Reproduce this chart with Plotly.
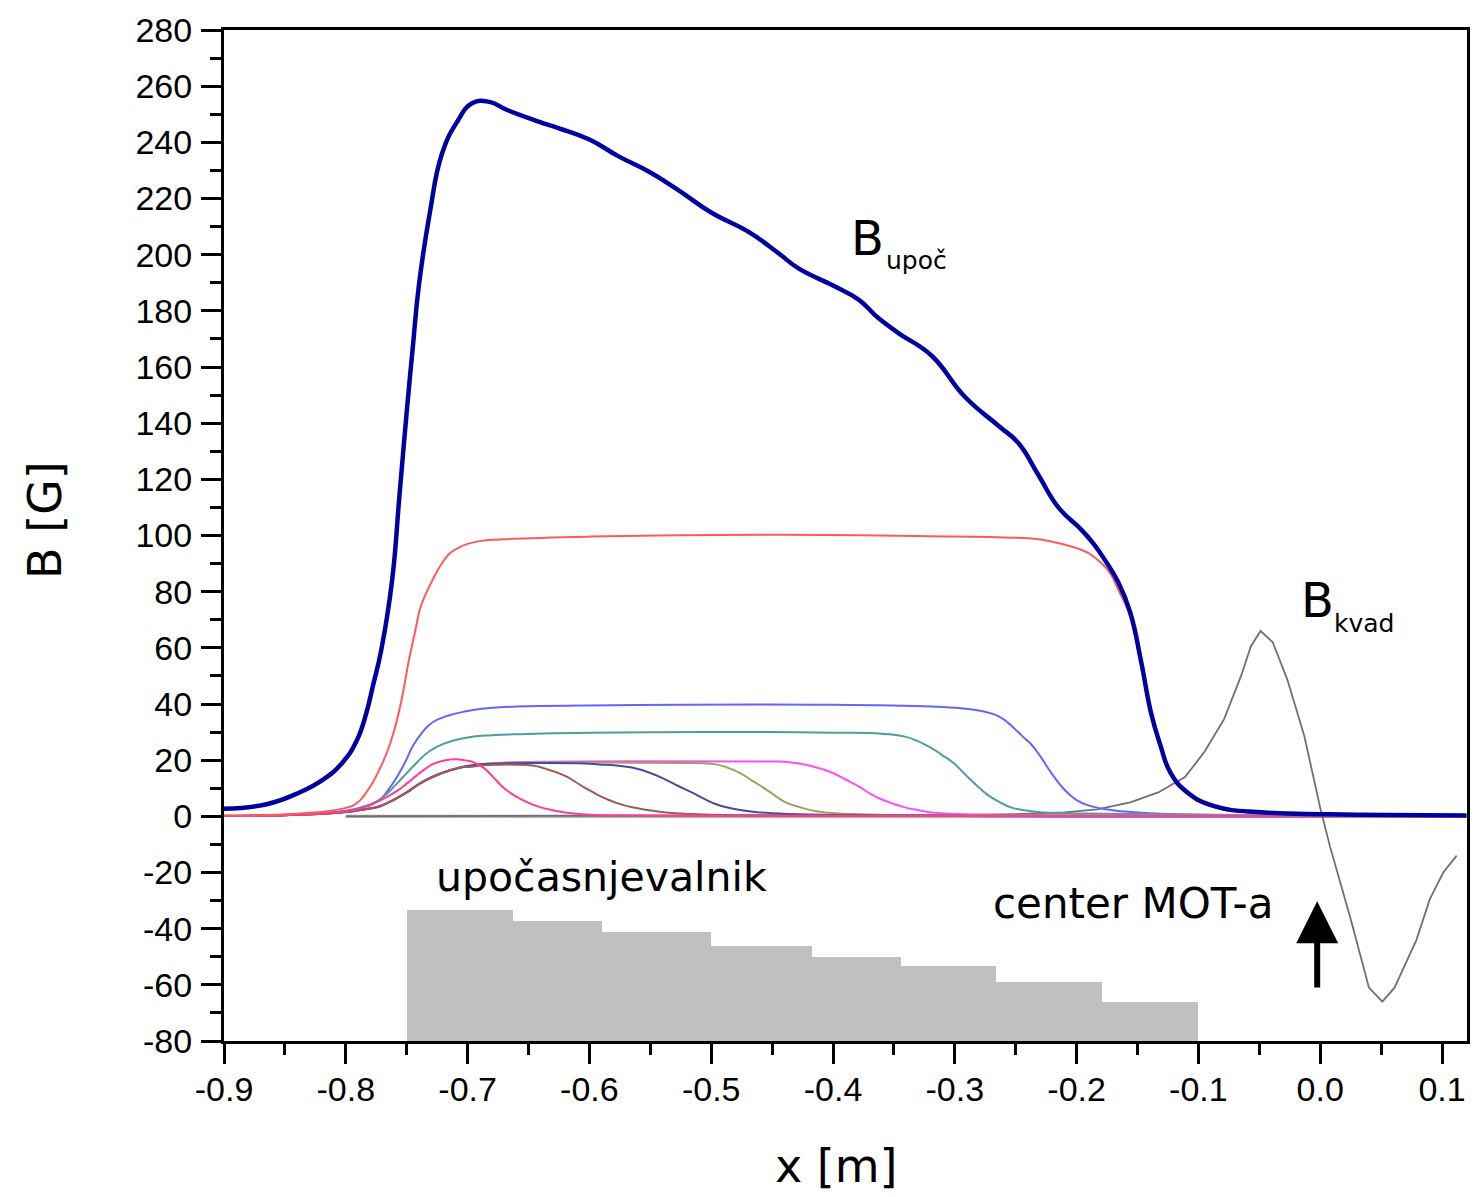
import plotly.graph_objects as go

# ---------------- data ----------------
x_upoc = [-0.900, -0.865, -0.838, -0.819, -0.803, -0.791, -0.783, -0.778, -0.771, -0.762,
          -0.756, -0.750, -0.745, -0.740, -0.731, -0.721, -0.709, -0.696, -0.682, -0.668,
          -0.641, -0.625, -0.600, -0.576, -0.551, -0.527, -0.500, -0.469, -0.445, -0.428,
          -0.400, -0.379, -0.363, -0.346, -0.319, -0.292, -0.264, -0.248, -0.232, -0.215,
          -0.196, -0.186, -0.177, -0.166, -0.156, -0.147, -0.139, -0.131, -0.123, -0.109,
          -0.087, -0.046, 0.008, 0.120]
y_upoc = [2.7, 4.3, 8.5, 13, 19, 27, 37, 46, 59, 84,
          114, 144, 167, 189, 215, 236, 247, 254, 254.4, 251.6,
          247.3, 245, 241, 235, 229.5, 223, 215, 208, 200.6, 195,
          189, 184, 177.5, 172, 164, 149.5, 139, 133, 122, 110,
          102, 97, 91.4, 83.5, 72.6, 55, 37, 25, 15.6, 8.5,
          3.6, 1.4, 0.7, 0.3]

x_red = [-0.900, -0.838, -0.800, -0.790, -0.784, -0.778, -0.772, -0.766, -0.760, -0.754,
         -0.748, -0.743, -0.739, -0.734, -0.729, -0.722, -0.715, -0.708, -0.700, -0.690,
         -0.674, -0.600, -0.445, -0.300, -0.260, -0.237, -0.220, -0.210, -0.200, -0.191,
         -0.184, -0.177, -0.171, -0.166, -0.161, -0.156, -0.147, -0.139, -0.131, -0.123,
         -0.109, -0.087, -0.046, 0.008, 0.120]
y_red = [0.3, 1, 3, 5, 8, 12, 17, 23, 31, 42,
         56, 66, 74, 79.5, 84, 89.5, 93.5, 95.5, 97, 98,
         98.6, 99.6, 100.3, 99.6, 99.3, 98.9, 97.8, 96.8, 95.5, 93.9,
         91.8, 89, 85.5, 80.8, 76.5, 71, 54, 36, 24, 15,
         8, 3.2, 1.1, 0.4, 0.1]

x_b40 = [-0.900, -0.850, -0.800, -0.785, -0.772, -0.765, -0.758, -0.751, -0.745, -0.737,
         -0.729, -0.715, -0.701, -0.688, -0.674, -0.650, -0.600, -0.400, -0.319, -0.295,
         -0.278, -0.264, -0.256, -0.248, -0.242, -0.237, -0.230, -0.224, -0.218, -0.212,
         -0.206, -0.200, -0.191, -0.176, -0.160, -0.143, -0.100, 0.120]
y_b40 = [0.2, 0.6, 2, 3.5, 6, 9.5, 14, 19.5, 25, 30,
         33.4, 36, 37.4, 38.3, 38.8, 39.2, 39.5, 39.7, 39.1, 38.5,
         37.5, 35.6, 33.2, 30, 27.5, 25.5, 21.5, 17.5, 13.8, 10.5,
         7.8, 5.8, 4, 2.5, 1.7, 1.2, 0.6, 0.2]

x_teal = [-0.900, -0.850, -0.800, -0.784, -0.776, -0.769, -0.761, -0.753, -0.742, -0.732,
          -0.720, -0.701, -0.680, -0.650, -0.600, -0.400, -0.360, -0.340, -0.322, -0.311,
          -0.301, -0.294, -0.287, -0.279, -0.271, -0.262, -0.254, -0.240, -0.227, -0.200,
          0.000, 0.120]
y_teal = [0.1, 0.5, 1.8, 3.5, 5, 7, 10.3, 14, 19, 23,
          25.8, 28, 28.9, 29.3, 29.8, 29.8, 29.4, 28.3, 25, 22,
          19, 16, 13, 9.8, 7, 4.8, 3.2, 2, 1.4, 1,
          0.3, 0.1]

# common rise of the four 20 G coils
x_rise = [-0.900, -0.850, -0.820, -0.800, -0.786, -0.772, -0.761, -0.750, -0.740, -0.729,
          -0.715, -0.701, -0.688, -0.674]
y_rise = [0.1, 0.4, 0.9, 1.5, 2.4, 3.6, 5.8, 8.5, 11.5, 14,
          16.3, 17.8, 18.6, 19]

x_mag = x_rise + [-0.640, -0.550, -0.450, -0.440, -0.428, -0.415, -0.401, -0.390, -0.379, -0.370,
                  -0.360, -0.350, -0.341, -0.330, -0.319, -0.280, -0.200, 0.120]
y_mag = y_rise + [19.4, 19.6, 19.5, 19.4, 18.8, 17.6, 15.6, 13.2, 10.7, 8.2,
                  6, 4.4, 3.2, 2.2, 1.4, 0.6, 0.3, 0.1]

x_olv = x_rise + [-0.640, -0.592, -0.520, -0.507, -0.496, -0.487, -0.477, -0.466, -0.455, -0.447,
                  -0.439, -0.427, -0.414, -0.395, -0.300, 0.120]
y_olv = y_rise + [19.3, 19.2, 19, 18.9, 18.5, 17.4, 15.6, 12.6, 9.6, 7.2,
                  5, 3.2, 1.8, 1.0, 0.3, 0.1]

x_navy = x_rise[:-1] + [-0.674, -0.640, -0.610, -0.592, -0.578, -0.565, -0.551, -0.537, -0.527, -0.516,
                        -0.506, -0.496, -0.483, -0.469, -0.450, -0.350, 0.120]
y_navy = y_rise[:-1] + [18.8, 19, 18.9, 18.5, 18.1, 17.4, 15.6, 13, 10.8, 8.5,
                        6.3, 4.3, 2.8, 1.8, 1.1, 0.3, 0.1]

x_brn = x_rise[:-2] + [-0.701, -0.688, -0.674, -0.660, -0.647, -0.640, -0.633, -0.626, -0.619, -0.612,
                       -0.605, -0.598, -0.592, -0.585, -0.578, -0.565, -0.551, -0.537, -0.500, -0.400, 0.120]
y_brn = y_rise[:-2] + [17.6, 18.2, 18.4, 18.4, 18.1, 17.5, 16.5, 15.5, 14.2, 12.4,
                       10.5, 8.8, 7.4, 6, 4.8, 3.2, 2.2, 1.4, 0.6, 0.3, 0.1]

x_pink = [-0.900, -0.850, -0.800, -0.786, -0.775, -0.765, -0.756, -0.749, -0.742, -0.735,
          -0.729, -0.718, -0.709, -0.700, -0.695, -0.686, -0.678, -0.670, -0.660, -0.650,
          -0.640, -0.628, -0.615, -0.600, -0.550, -0.450, 0.120]
y_pink = [0.1, 0.4, 1.8, 3, 5, 7.2, 9.6, 12, 14.5, 16.8,
          18.5, 20, 20.3, 19.8, 19.2, 17, 13.5, 10, 7, 4.8,
          3.2, 2, 1.1, 0.6, 0.3, 0.15, 0.05]

x_kvad = [-0.800, -0.600, -0.400, -0.300, -0.250, -0.210, -0.183, -0.156, -0.133, -0.111,
          -0.095, -0.079, -0.065, -0.057, -0.049, -0.039, -0.027, -0.013, 0.000, 0.008,
          0.025, 0.040, 0.051, 0.061, 0.079, 0.090, 0.101, 0.112]
y_kvad = [0, 0.1, 0.3, 0.5, 0.8, 1.4, 2.5, 5, 8.5, 14,
          23, 34.5, 50, 60.5, 66, 62, 48.7, 28.5, 3, -10.7,
          -36.6, -61, -66, -61, -44, -29.5, -20, -14]

x_base = [-0.800, 0.120]
y_base = [0, 0]

# slower coil sections (edges along x, top level in the lower panel)
coil_edges = [-0.750, -0.663, -0.590, -0.500, -0.417, -0.344, -0.266, -0.179, -0.100]
coil_tops = [-33.4, -37.4, -41.3, -46.3, -50.2, -53.4, -59.0, -66.2]
coil_floor = -80

x_ticks = [-0.9, -0.8, -0.7, -0.6, -0.5, -0.4, -0.3, -0.2, -0.1, 0.0, 0.1]
x_ticktext = ["-0.9", "-0.8", "-0.7", "-0.6", "-0.5", "-0.4", "-0.3", "-0.2", "-0.1", "0.0", "0.1"]
y_ticks = list(range(-80, 281, 20))
y_ticktext = [str(v) for v in y_ticks]
x_minor = [-0.85, -0.75, -0.65, -0.55, -0.45, -0.35, -0.25, -0.15, -0.05, 0.05]
y_minor = list(range(-70, 280, 20))

# ---------------- figure ----------------
fig = go.Figure()

centers = [(a + b) / 2 for a, b in zip(coil_edges[:-1], coil_edges[1:])]
widths = [b - a for a, b in zip(coil_edges[:-1], coil_edges[1:])]
heights = [t - coil_floor for t in coil_tops]
fig.add_trace(go.Bar(x=centers, y=heights, base=coil_floor, width=widths,
                     marker=dict(color="#C0C0C0", line=dict(width=0)), hoverinfo="skip"))

fig.add_trace(go.Scatter(x=x_base, y=y_base, mode="lines",
                         line=dict(color="#A0A0A0", width=3)))
fig.add_trace(go.Scatter(x=x_kvad, y=y_kvad, mode="lines",
                         line=dict(color="#707070", width=1.8)))

curves = [
    (x_b40, y_b40, "#6464FF"),
    (x_teal, y_teal, "#4E9C9C"),
    (x_mag, y_mag, "#FF4CFF"),
    (x_olv, y_olv, "#A0A060"),
    (x_navy, y_navy, "#4A4AA0"),
    (x_brn, y_brn, "#A05858"),
    (x_pink, y_pink, "#FF3C96"),
    (x_red, y_red, "#FF5A5A"),
]
for xs, ys, c in curves:
    fig.add_trace(go.Scatter(x=xs, y=ys, mode="lines",
                             line=dict(color=c, width=2, shape="spline", smoothing=1.3)))

fig.add_trace(go.Scatter(x=x_upoc, y=y_upoc, mode="lines",
                         line=dict(color="#0000A0", width=4.5, shape="spline", smoothing=1.3)))

TXT = "DejaVu Sans"
ann = [
    dict(text="B", x=-0.387, y=206, xanchor="left", yanchor="middle", font=dict(size=48)),
    dict(text="upoč", x=-0.358, y=198, xanchor="left", yanchor="middle", font=dict(size=25)),
    dict(text="B", x=-0.0175, y=77, xanchor="left", yanchor="middle", font=dict(size=48)),
    dict(text="kvad", x=0.0095, y=68.5, xanchor="left", yanchor="middle", font=dict(size=25)),
    dict(text="upočasnjevalnik", x=-0.590, y=-21.6, xanchor="center", yanchor="middle", font=dict(size=41)),
    dict(text="center MOT-a", x=-0.154, y=-31.2, xanchor="center", yanchor="middle", font=dict(size=42)),
]
for a in ann:
    a["font"]["family"] = TXT
    a["font"]["color"] = "black"
    a.update(xref="x", yref="y", showarrow=False)
    fig.add_annotation(**a)

# arrow marking MOT centre
fig.add_annotation(x=-0.0025, y=-30.2, ax=-0.0025, ay=-61.5, xref="x", yref="y",
                   axref="x", ayref="y", showarrow=True, arrowhead=2, arrowsize=1.4,
                   arrowwidth=6, arrowcolor="black", text="")

# axis titles
fig.add_annotation(text="x [m]", xref="paper", yref="paper", x=(838 - 224) / 1246, y=0,
                   xanchor="center", yanchor="middle", yshift=-125, showarrow=False,
                   font=dict(family=TXT, size=46, color="black"))
fig.add_annotation(text="B [G]", xref="paper", yref="paper", x=0, y=(1041 - 520) / 1011,
                   xanchor="center", yanchor="middle", xshift=-179, textangle=-90, showarrow=False,
                   font=dict(family=TXT, size=46, color="black"))

axis_common = dict(showgrid=False, zeroline=False, showline=True, linecolor="black", linewidth=3,
                   mirror=True, ticks="outside", ticklen=20, tickwidth=3, tickcolor="black",
                   tickfont=dict(family="Liberation Sans", size=34, color="black"))

fig.update_xaxes(range=[-0.9, 0.1205], tickmode="array", tickvals=x_ticks, ticktext=x_ticktext,
                 minor=dict(tickmode="array", tickvals=x_minor, ticks="outside", ticklen=11,
                            tickwidth=3, tickcolor="black", showgrid=False),
                 ticklabelstandoff=-4, **axis_common)
fig.update_yaxes(range=[-80, 280], tickmode="array", tickvals=y_ticks, ticktext=y_ticktext,
                 minor=dict(tickmode="array", tickvals=y_minor, ticks="outside", ticklen=11,
                            tickwidth=3, tickcolor="black", showgrid=False),
                 ticklabelstandoff=2, **axis_common)

fig.update_layout(width=1474, height=1197, margin=dict(l=224, r=4, t=30, b=156),
                  paper_bgcolor="white", plot_bgcolor="white", showlegend=False,
                  bargap=0)

fig.write_html("out.html")
